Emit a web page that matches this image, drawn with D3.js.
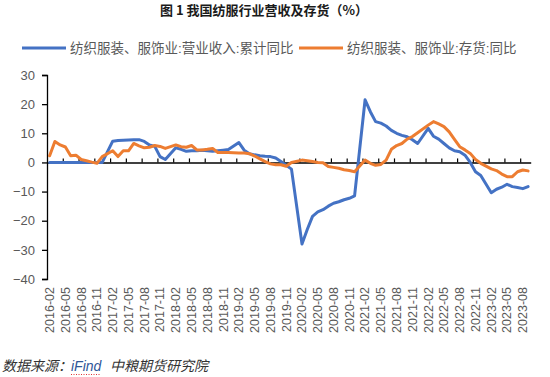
<!DOCTYPE html>
<html>
<head>
<meta charset="utf-8">
<script src="https://cdn.jsdelivr.net/npm/d3@7/dist/d3.min.js"></script>
<style>
  body { margin: 0; background: #fff; }
  text { font-family: "Liberation Sans", Arial, "Noto Sans CJK SC", sans-serif; }
</style>
</head>
<body>
<div id="chart"></div>
<script>
var svgWidth = 550;
var svgHeight = 377;

// categories: monthly, 2016-02 .. 2023-09
var months = [];
for (var yr = 2016; yr <= 2023; yr++) {
  for (var mo = 1; mo <= 12; mo++) {
    if (yr === 2016 && mo < 2) continue;
    if (yr === 2023 && mo > 9) continue;
    months.push(yr + "-" + (mo < 10 ? "0" + mo : mo));
  }
}

// 纺织服装、服饰业:营业收入:累计同比 (January values not published)
var revenueYoY = [
  0, 0, 0, 0, 0, 0, 0, 0, 0, 0,
  0, null, 7.3, 7.5, 7.6, 7.7, 7.8, 7.8, 7.2, 6.0,
  5.5, 2.0, 1.0, null, 5.0, 4.5, 3.8, 4.0, 4.0, 4.2,
  4.0, 3.8, 4.0, 4.2, 4.4, null, 6.8, 4.2, 3.0, 2.6,
  2.3, 2.1, 2.0, 1.5, 0.3, -1.0, -2.3, null, -28.0, -23.0,
  -18.5, -17.0, -16.2, -15.0, -14.0, -13.5, -12.8, -12.3, -11.5, null,
  21.5, 17.4, 14.0, 13.5, 12.5, 11.0, 10.0, 9.3, 8.8, 7.8,
  6.5, null, 11.7, 9.0, 8.0, 6.5, 5.0, 4.0, 3.7, 2.5,
  0.0, -3.2, -4.5, null, -10.4, -9.2, -8.5, -7.5, -8.3, -8.6,
  -9.0, -8.3
];

// 纺织服装、服饰业:存货:同比
var inventoryYoY = [
  2.3, 7.2, 6.0, 5.3, 2.3, 2.5, 1.0, 0.6, 0.1, -0.3,
  2.0, null, 4.0, 2.0, 4.0, 4.0, 6.5, 5.7, 5.0, 5.2,
  5.8, 5.5, 4.8, null, 6.0, 5.4, 5.2, 5.8, 4.3, 4.3,
  4.5, 4.8, 3.4, 3.4, 3.4, null, 3.2, 3.2, 3.0, 2.2,
  1.2, 0.3, -0.5, -0.8, -0.8, -1.3, 0.0, null, 0.8, 0.6,
  0.3, 0.0, -0.1, -1.4, -1.7, -2.0, -2.5, -2.8, -3.2, null,
  0.8, -0.3, -1.0, -0.7, 0.8, 4.5, 5.8, 6.5, 8.0, 8.9,
  10.2, null, 12.8, 14.0, 13.2, 12.3, 10.5, 7.9, 5.4, 4.3,
  3.1, 1.0, -0.3, null, -2.2, -2.8, -4.0, -4.9, -4.9, -3.2,
  -2.6, -2.9
];

var yTicks = [30, 20, 10, 0, -10, -20, -30, -40];
var seriesNames = ["纺织服装、服饰业:营业收入:累计同比", "纺织服装、服饰业:存货:同比"];
var seriesColors = ["#4472C4", "#ED7D31"];

var margin = { left: 47, right: 19.3, top: 75, bottom: 98 };

var svg = d3.select("#chart")
  .append("svg")
  .attr("width", svgWidth)
  .attr("height", svgHeight);

// title
svg.append("text")
  .attr("x", 264)
  .attr("y", 15)
  .attr("text-anchor", "middle")
  .style("font-family", "'Noto Sans CJK SC', sans-serif")
  .style("font-size", "13px")
  .style("font-weight", "bold")
  .attr("fill", "#1a1a1a")
  .text("图 1  我国纺服行业营收及存货（%）");

// scales
var xBand = d3.scaleBand()
  .domain(months)
  .range([margin.left, svgWidth - margin.right]);
var bw = xBand.bandwidth();
var xIdx = d3.scaleLinear()
  .domain([0, months.length])
  .range([margin.left, svgWidth - margin.right]);

var yLinearScale = d3.scaleLinear()
  .domain([-40, 30])
  .range([svgHeight - margin.bottom, margin.top]);

// y axis
var leftAxis = d3.axisLeft(yLinearScale)
  .tickValues(yTicks)
  .tickSize(5)
  .tickPadding(7)
  .tickFormat(d3.format("d"));

var yAxis = svg.append("g")
  .attr("transform", `translate(${margin.left},0)`)
  .call(leftAxis);
yAxis.select(".domain").attr("stroke", "#000").attr("stroke-width", 1.3);
yAxis.selectAll(".tick line").attr("stroke", "#000").attr("stroke-width", 1.3);
yAxis.selectAll("text")
  .attr("fill", "#595959")
  .style("font-size", "13px");

// zero line with category tick marks (pointing up)
var zeroAxis = d3.axisBottom(xIdx)
  .tickValues(d3.range(3, months.length, 3))
  .tickSizeInner(-4)
  .tickSizeOuter(0)
  .tickFormat("");
var xAxis = svg.append("g")
  .attr("transform", `translate(0,${yLinearScale(0)})`)
  .call(zeroAxis);
xAxis.select(".domain").attr("stroke", "#000").attr("stroke-width", 1.6);
xAxis.selectAll(".tick line").attr("stroke", "#000").attr("stroke-width", 1.2);

// category labels at bottom, rotated
var labelMonths = months.filter((m, i) => i % 3 === 0);
var bottomAxis = d3.axisBottom(xBand)
  .tickValues(labelMonths)
  .tickSize(0);
var labels = svg.append("g")
  .attr("transform", `translate(0,${svgHeight - margin.bottom + 5})`)
  .call(bottomAxis);
labels.select(".domain").remove();
labels.selectAll("text")
  .attr("transform", "rotate(-90)")
  .attr("x", -3)
  .attr("y", 0)
  .attr("dy", "0.35em")
  .attr("text-anchor", "end")
  .attr("fill", "#595959")
  .style("font-size", "12.5px");

// lines
var allSeries = [revenueYoY, inventoryYoY];
var lineGen = d3.line()
  .x(d => xBand(d.m) + bw / 2)
  .y(d => yLinearScale(d.v));

allSeries.forEach(function(vals, k) {
  var pts = months.map((m, i) => ({ m: m, v: vals[i] })).filter(d => d.v !== null);
  svg.append("path")
    .datum(pts)
    .attr("d", lineGen)
    .attr("fill", "none")
    .attr("stroke", seriesColors[k])
    .attr("stroke-width", 3)
    .attr("stroke-linejoin", "round")
    .attr("stroke-linecap", "round");
});

// legend
var legendX = [22, 299];
seriesNames.forEach(function(name, k) {
  var g = svg.append("g").attr("transform", `translate(${legendX[k]},48)`);
  g.append("line")
    .attr("x1", 0).attr("x2", 44)
    .attr("y1", 0).attr("y2", 0)
    .attr("stroke", seriesColors[k])
    .attr("stroke-width", 3);
  g.append("text")
    .attr("x", 48)
    .attr("y", 0)
    .attr("dy", "0.36em")
    .attr("fill", "#595959")
    .style("font-size", "13.5px")
    .text(name);
});

// source
var src = svg.append("text")
  .attr("x", 2)
  .attr("y", 371)
  .style("font-family", "'Noto Sans CJK SC', sans-serif")
  .style("font-size", "14px")
  .style("font-style", "italic")
  .attr("fill", "#333");
src.append("tspan").text("数据来源：");
src.append("tspan").attr("x", 71).attr("fill", "#2F5597")
  .style("font-family", "'Liberation Sans', sans-serif").text("iFind");
src.append("tspan").attr("x", 110).text("中粮期货研究院");
svg.append("line")
  .attr("x1", 71).attr("x2", 100)
  .attr("y1", 374.5).attr("y2", 374.5)
  .attr("stroke", "#e03030")
  .attr("stroke-width", 1)
  .attr("stroke-dasharray", "1,1.5");
</script>
</body>
</html>
